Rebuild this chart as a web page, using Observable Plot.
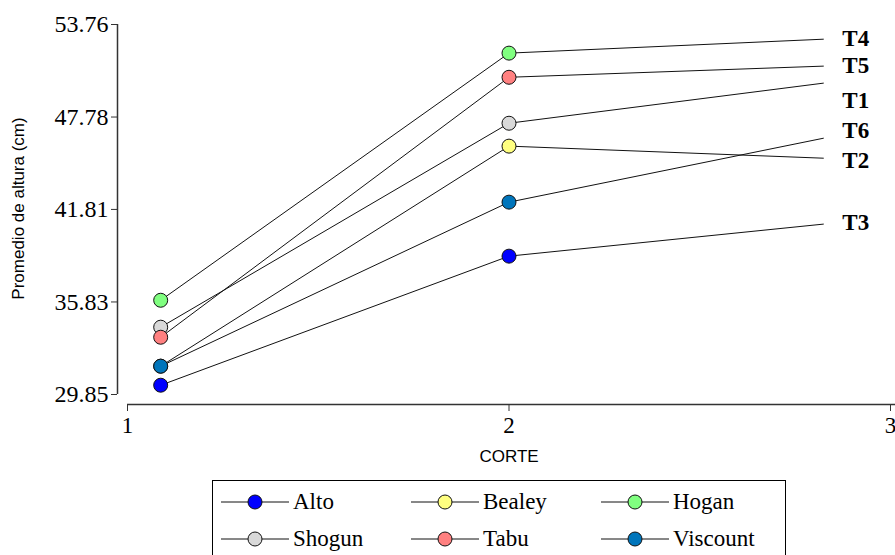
<!DOCTYPE html>
<html>
<head>
<meta charset="utf-8">
<script src="https://cdn.jsdelivr.net/npm/d3@7"></script>
<script src="https://cdn.jsdelivr.net/npm/@observablehq/plot@0.6"></script>
<style>
  html, body { margin: 0; padding: 0; background: #fff; }
  #wrap { position: relative; width: 895px; height: 555px; overflow: hidden; }
  #legend { position: absolute; left: 212px; top: 480px; width: 574px; height: 90px;
            border: 1.5px solid #000; box-sizing: border-box; background: #fff; }
  .item { position: absolute; display: flex; align-items: center; height: 30px;
          font-family: "Liberation Serif", "Times New Roman", serif; font-size: 23px; color: #000; }
  .item svg { display: block; margin-right: 2px; }
</style>
</head>
<body>
<div id="wrap"><div id="chart"></div><div id="legend"></div></div>
<script>
// ---- data ----
const varieties = ["Alto", "Bealey", "Hogan", "Shogun", "Tabu", "Viscount"];
const colors = ["#0000ff", "#ffff80", "#80ff80", "#d9d9d9", "#ff8080", "#0075bb"];
const corte = [1.087, 2, 2.824];
const alto     = [30.45, 38.79, 40.86];
const bealey   = [31.68, 45.90, 45.12];
const hogan    = [35.94, 51.91, 52.81];
const shogun   = [34.20, 47.38, 49.97];
const tabu     = [33.55, 50.35, 51.07];
const viscount = [31.68, 42.28, 46.41];
const seriesValues = [alto, bealey, hogan, shogun, tabu, viscount];
const yTicks = [29.85, 35.83, 41.81, 47.78, 53.76];
const xTicks = [1, 2, 3];
const endLabels = ["T3", "T2", "T4", "T1", "T5", "T6"];          // per variety
const endLabelValues = [40.98, 44.99, 52.87, 48.87, 51.13, 46.93]; // label anchors (data units)

const rows = [];
varieties.forEach((v, i) => seriesValues[i].forEach((y, j) => rows.push({variety: v, x: corte[j], y, j})));
const labelRows = varieties.map((v, i) => ({variety: v, label: endLabels[i], x: corte[2], y: endLabelValues[i]}));

const serif = "Liberation Serif, Times New Roman, serif";
const sans = "Liberation Sans, Arial, sans-serif";

const chart = Plot.plot({
  width: 895,
  height: 470,
  marginTop: 24,
  marginBottom: 76,
  marginLeft: 127,
  marginRight: 5,
  style: {background: "#fff", overflow: "visible"},
  x: {domain: [1, 3]},
  y: {domain: [29.85, 53.76]},
  color: {domain: varieties, range: colors},
  marks: [
    Plot.ruleX([1], {y1: 29.85, y2: 53.76, dx: -10, stroke: "#333", strokeWidth: 1.5}),
    Plot.axisY({ticks: yTicks, tickFormat: d => d.toFixed(2), tickSize: 6, tickPadding: 3, dx: -10,
                fontSize: 24, fontFamily: serif, fill: "#000", stroke: "#333", label: null}),
    Plot.ruleY([29.85], {x1: 1, x2: 3.02, dy: 10, stroke: "#333", strokeWidth: 1.5}),
    Plot.axisX({ticks: xTicks, tickFormat: d => String(d), tickSize: 7, tickPadding: 5, dy: 10,
                fontSize: 23, fontFamily: serif, fill: "#000", stroke: "#333", label: null}),
    Plot.text(["CORTE"], {frameAnchor: "bottom", lineAnchor: "middle", textAnchor: "middle", dy: 62,
                fontSize: 17, fontFamily: sans, fill: "#000"}),
    Plot.text(["Promedio de altura (cm)"], {frameAnchor: "left", textAnchor: "middle", lineAnchor: "middle",
                rotate: -90, dx: -109, dy: -1, fontSize: 17, fontFamily: sans, fill: "#000"}),
    Plot.line(rows, {x: "x", y: "y", z: "variety", stroke: "#111", strokeWidth: 1}),
    Plot.dot(rows.filter(d => d.j < 2), {x: "x", y: "y", r: 7, fill: "variety", stroke: "#111", strokeWidth: 1}),
    Plot.text(labelRows, {x: "x", y: "y", text: "label", dx: 19, textAnchor: "start", fontWeight: "bold",
                fontSize: 23, fontFamily: serif, fill: "#000"})
  ]
});
document.getElementById("chart").appendChild(chart);

// ---- legend ----
const legend = d3.select("#legend");
varieties.forEach((v, i) => {
  const col = i % 3, row = Math.floor(i / 3);
  const item = legend.append("div").attr("class", "item")
    .style("left", (8 + col * 190) + "px")
    .style("top", (6 + row * 37) + "px");
  const s = item.append("svg").attr("width", 70).attr("height", 20);
  s.append("line").attr("x1", 0).attr("x2", 68).attr("y1", 10).attr("y2", 10).attr("stroke", "#111");
  s.append("circle").attr("cx", 34).attr("cy", 10).attr("r", 7).attr("fill", colors[i]).attr("stroke", "#111");
  item.append("span").text(v);
});
</script>
</body>
</html>
